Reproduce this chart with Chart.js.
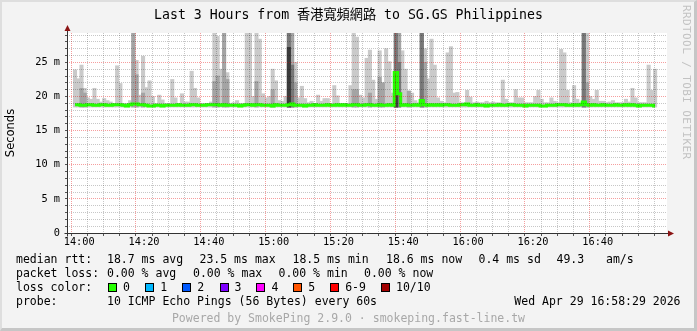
<!DOCTYPE html>
<html>
<head>
<meta charset="utf-8">
<script src="https://cdn.jsdelivr.net/npm/chart.js@4.4.1/dist/chart.umd.min.js"></script>
<style>
body { margin: 0; background: #f3f3f3; }
#wrap { position: relative; width: 697px; height: 331px; overflow: hidden; background: #f3f3f3; }
#frame { position: absolute; left: 0; top: 0; width: 697px; height: 331px; box-sizing: border-box;
  border-left: 2px solid #dedede; border-top: 2px solid #dedede; border-right: 3px solid #c6c6c6; border-bottom: 3px solid #c6c6c6; pointer-events: none; }
canvas { position: absolute; left: 0; top: 0; }
.t { position: absolute; font: 11.5px "DejaVu Sans Mono", monospace; line-height: 14px; white-space: pre; color: #000; }
.title { position: absolute; left: 0; top: 7px; width: 697px; text-align: center; font: 13.2px "DejaVu Sans Mono", "Noto Sans CJK TC", monospace; line-height: 16px; white-space: pre; color: #000; }
.sw { position: absolute; top: 283px; width: 7px; height: 7px; border: 1px solid #000; }
.rrd { position: absolute; left: 680px; top: 5px; writing-mode: vertical-rl; font: 11px "DejaVu Sans Mono", monospace; letter-spacing: 0.4px; color: #c2c2c2; white-space: pre; }
.pw { position: absolute; left: 0; width: 697px; top: 311px; text-align: center; font: 11.5px "DejaVu Sans Mono", monospace; line-height: 14px; color: #a8a8a8; white-space: pre; }
</style>
</head>
<body>
<div id="wrap">
  <canvas id="c" width="697" height="331"></canvas>
  <div class="title">Last 3 Hours from 香港寬頻網路 to SG.GS Philippines</div>
  <div class="rrd">RRDTOOL / TOBI OETIKER</div>

  <div class="t" style="left:16px;top:252px">median rtt:</div>
  <div class="t" style="left:107px;top:252px">18.7 ms avg</div>
  <div class="t" style="left:199.5px;top:252px">23.5 ms max</div>
  <div class="t" style="left:292.5px;top:252px">18.5 ms min</div>
  <div class="t" style="left:386px;top:252px">18.6 ms now</div>
  <div class="t" style="left:478.5px;top:252px">0.4 ms sd</div>
  <div class="t" style="left:556.5px;top:252px">49.3</div>
  <div class="t" style="left:606px;top:252px">am/s</div>

  <div class="t" style="left:16px;top:266px">packet loss:</div>
  <div class="t" style="left:107px;top:266px">0.00 % avg</div>
  <div class="t" style="left:193px;top:266px">0.00 % max</div>
  <div class="t" style="left:278.5px;top:266px">0.00 % min</div>
  <div class="t" style="left:364px;top:266px">0.00 % now</div>

  <div class="t" style="left:16px;top:280px">loss color:</div>
  <div id="lossLegend"></div>

  <div class="t" style="left:16px;top:294px">probe:</div>
  <div class="t" style="left:107px;top:294px">10 ICMP Echo Pings (56 Bytes) every 60s</div>
  <div class="t" style="right:16.5px;top:294px">Wed Apr 29 16:58:29 2026</div>

  <div class="pw">Powered by SmokePing 2.9.0 · smokeping.fast-line.tw</div>
  <div id="frame"></div>
</div>
<script>
// axis labels
const timeTicks = ['14:00', '14:20', '14:40', '15:00', '15:20', '15:40', '16:00', '16:20', '16:40'];
const yTicks = ['0', '5 m', '10 m', '15 m', '20 m', '25 m'];

// loss colour legend
const lossLabels = ['0', '1', '2', '3', '4', '5', '6-9', '10/10'];
const lossColors = ['#26ff00', '#00b8ff', '#0059ff', '#7e00ff', '#ff00ff', '#ff5500', '#ff0000', '#a10000'];

// one slot per minute, first slot centred 1.3 min before 14:00 (ms)
const FIRST_SLOT = -1.3;
const SMOKE_FLOOR = 18.45;

// highest ping of each minute (light smoke)
const smokeHi = [
  23.9, 22.6, 24.6, 21.2, 19.8, 19.6, 21.2, 19.6, 19.2, 19.7,
  19.4, 19.2, 19.0, 24.5, 21.9, 19.0, 19.0, 19.4, 29.4, 25.3,
  20.2, 25.9, 21.3, 22.3, 20.0, 19.0, 20.2, 19.5, 19.0, 19.0,
  22.5, 19.8, 19.0, 20.4, 19.2, 19.2, 23.7, 21.2, 19.8, 19.0,
  19.0, 19.0, 19.2, 29.4, 28.8, 24.0, 29.4, 23.5, 19.0, 19.1,
  19.4, 19.0, 19.0, 29.4, 29.4, 20.0, 29.4, 28.4, 20.4, 19.8,
  20.0, 24.0, 22.3, 19.4, 19.3, 20.0, 29.4, 29.4, 25.0, 19.8,
  21.5, 19.7, 19.1, 19.3, 19.0, 20.2, 19.3, 19.7, 19.7, 19.0,
  21.6, 20.1, 19.0, 19.0, 19.0, 21.6, 29.4, 28.7, 20.2, 19.8,
  25.6, 26.8, 22.4, 19.6, 26.7, 22.0, 27.0, 25.1, 20.5, 29.4,
  29.4, 26.7, 24.0, 20.8, 20.5, 19.4, 19.1, 29.4, 27.0, 22.6,
  28.4, 24.6, 19.8, 19.3, 19.1, 26.4, 27.3, 20.5, 20.6, 19.1,
  19.1, 20.9, 19.9, 19.1, 19.2, 19.1, 19.1, 19.3, 19.1, 19.2,
  19.1, 19.1, 22.4, 19.6, 19.1, 19.1, 21.0, 19.8, 19.8, 19.1,
  19.1, 19.1, 20.0, 20.9, 19.6, 19.1, 19.1, 19.8, 19.3, 19.1,
  26.9, 26.4, 20.9, 19.1, 21.6, 19.6, 19.1, 29.4, 29.4, 20.0,
  19.6, 20.9, 19.3, 19.3, 19.1, 19.2, 19.4, 19.1, 19.1, 19.1,
  19.6, 19.2, 21.2, 19.8, 19.1, 19.1, 19.1, 24.6, 20.9, 24.0
];

// denser smoke, [slot, top]
const smokeMid = [
  [2, 21.2], [3, 20.5], [18, 29.4], [19, 23.2], [21, 20.5], [43, 22.2], [44, 23.0],
  [46, 29.4], [47, 22.5], [56, 22.2], [61, 21.0], [66, 29.4], [67, 29.4], [68, 22.0],
  [86, 21.0], [87, 21.0], [91, 20.5], [94, 22.8], [95, 22.0], [99, 29.4], [100, 29.4],
  [103, 20.8], [107, 29.4], [108, 25.0], [157, 29.4], [158, 22.0]
];
const smokeDark = [[66, 29.4], [67, 24.6], [99, 29.4], [100, 25.0], [107, 29.4], [157, 29.4]];
const smokeDarkest = [[66, 27.2], [99, 23.5]];

// median rtt per minute
const median = [
  18.8, 18.8, 18.7, 18.7, 18.8, 18.8, 18.7, 18.7, 18.8, 18.8,
  18.7, 18.7, 18.8, 18.8, 18.8, 18.7, 18.6, 18.8, 18.9, 18.9,
  18.8, 18.8, 18.7, 18.6, 18.6, 18.7, 18.7, 18.6, 18.7, 18.7,
  18.7, 18.7, 18.8, 18.7, 18.7, 18.7, 18.8, 18.8, 18.7, 18.7,
  18.7, 18.8, 18.8, 18.8, 18.8, 18.7, 18.8, 18.7, 18.7, 18.7,
  18.7, 18.6, 18.7, 18.8, 18.8, 18.7, 18.8, 18.8, 18.7, 18.7,
  18.7, 18.6, 18.8, 18.7, 18.7, 18.7, 18.8, 18.9, 18.7, 18.7,
  18.7, 18.6, 18.7, 18.7, 18.8, 18.7, 18.7, 18.7, 18.8, 18.7,
  18.7, 18.8, 18.7, 18.8, 18.7, 18.7, 18.8, 18.8, 18.7, 18.7,
  18.8, 18.8, 18.7, 18.7, 18.8, 18.7, 18.7, 18.8, 18.7, 23.5,
  20.4, 18.7, 18.8, 18.7, 18.7, 18.8, 18.7, 19.4, 18.8, 18.7,
  18.8, 18.7, 18.8, 18.7, 18.8, 18.8, 18.7, 18.7, 18.7, 18.8,
  18.8, 18.9, 18.7, 18.7, 18.8, 18.7, 18.7, 18.6, 18.7, 18.7,
  18.7, 18.8, 18.7, 18.7, 18.8, 18.8, 18.7, 18.7, 18.7, 18.6,
  18.7, 18.7, 18.7, 18.7, 18.6, 18.6, 18.7, 18.7, 18.7, 18.8,
  18.8, 18.8, 18.7, 18.7, 18.8, 18.7, 18.8, 19.2, 18.8, 18.7,
  18.8, 18.7, 18.7, 18.8, 18.7, 18.7, 18.7, 18.8, 18.7, 18.7,
  18.8, 18.7, 18.8, 18.7, 18.6, 18.7, 18.7, 18.7, 18.7, 18.6
];

// loss legend boxes
const swatchX = [108, 145.3, 182.2, 219.6, 256.4, 293.3, 330.2, 381];
const legendEl = document.getElementById('lossLegend');
legendEl.innerHTML = lossLabels.map((l, i) =>
  `<div class="sw" style="left:${swatchX[i]}px;background:${lossColors[i]}"></div>` +
  `<div class="t" style="left:${swatchX[i] + 15}px;top:280px">${l}</div>`).join('');

const slotX = i => FIRST_SLOT + i;
const smokeBars = pairs => pairs.map(([i, v]) => ({ x: slotX(i), y: [SMOKE_FLOOR, v] }));
// each minute slot is 600px / 180 wide; a hair extra so neighbours touch
const barSet = (data, color, order) => ({
  type: 'bar', data, backgroundColor: color, borderWidth: 0, grouped: false,
  barThickness: 3.4, order, clip: 0
});

const frame = {
  id: 'frame',
  beforeDraw(chart) {
    const { ctx, chartArea: a } = chart;
    ctx.save();
    ctx.fillStyle = '#ffffff';
    ctx.fillRect(a.left, a.top, a.right - a.left, a.bottom - a.top);
    ctx.restore();
  },
  afterDraw(chart) {
    const { ctx, chartArea: a } = chart;
    const x0 = Math.round(a.left) + 0.5, y0 = Math.round(a.bottom) + 0.5;
    ctx.save();
    ctx.strokeStyle = '#333';
    ctx.lineWidth = 1;
    ctx.beginPath();
    ctx.moveTo(x0, y0 + 3); ctx.lineTo(x0, a.top - 3);
    ctx.moveTo(x0 - 3, y0); ctx.lineTo(a.right + 2, y0);
    ctx.stroke();
    ctx.fillStyle = '#8b1414';
    ctx.beginPath();
    ctx.moveTo(x0 - 3, a.top - 2); ctx.lineTo(x0 + 3, a.top - 2); ctx.lineTo(x0, a.top - 8);
    ctx.closePath(); ctx.fill();
    ctx.beginPath();
    ctx.moveTo(a.right + 1, y0 - 3); ctx.lineTo(a.right + 1, y0 + 3); ctx.lineTo(a.right + 7, y0);
    ctx.closePath(); ctx.fill();
    ctx.restore();
  }
};

const majorRed = 'rgba(230,0,0,0.38)';
const minorGray = 'rgba(0,0,0,0.22)';

new Chart(document.getElementById('c'), {
  type: 'bar',
  data: {
    datasets: [
      { type: 'line', data: median.map((v, i) => ({ x: slotX(i), y: v })), borderColor: '#26ff00',
        borderWidth: 3, pointRadius: 0, stepped: 'middle', order: 0, clip: 0 },
      barSet(smokeBars(smokeDarkest), '#3a3a3a', 1),
      barSet(smokeBars(smokeDark), '#777777', 2),
      barSet(smokeBars(smokeMid), '#a4a4a4', 3),
      barSet(smokeHi.map((v, i) => ({ x: slotX(i), y: [SMOKE_FLOOR, v] })), '#cacaca', 4)
    ]
  },
  options: {
    responsive: false,
    animation: false,
    devicePixelRatio: 1,
    layout: { padding: { top: 33, right: 30, left: 0, bottom: 0 } },
    plugins: { legend: { display: false }, tooltip: { enabled: false } },
    scales: {
      x: {
        type: 'linear', min: -1.2, max: 178.8,
        afterFit(s) { s.height = 98; },
        afterBuildTicks(s) { const t = []; for (let v = 0; v <= 175; v += 5) t.push({ value: v }); s.ticks = t; },
        ticks: {
          autoSkip: false, maxRotation: 0, padding: 0, color: '#000',
          font: { family: 'DejaVu Sans Mono', size: 10.3 },
          callback: v => (v % 20 === 0 ? timeTicks[v / 20] : '')
        },
        grid: { z: 1, color: c => (c.tick && c.tick.value % 20 === 0 ? majorRed : minorGray),
          tickLength: 3, tickColor: '#555' },
        border: { display: false, dash: [1, 1] }
      },
      y: {
        min: 0, max: 29.3,
        afterFit(s) { s.width = 67; },
        afterBuildTicks(s) { const t = []; for (let v = 0; v <= 29; v++) t.push({ value: v }); s.ticks = t; },
        ticks: {
          autoSkip: false, padding: 5, color: '#000',
          font: { family: 'DejaVu Sans Mono', size: 10.3 },
          callback: v => (v % 5 === 0 ? yTicks[v / 5] : '')
        },
        grid: { z: 1, color: c => (c.tick && c.tick.value % 5 === 0 ? majorRed : minorGray),
          tickLength: 2, tickColor: '#555' },
        border: { display: false, dash: [1, 1] },
        title: { display: true, text: 'Seconds', color: '#000', padding: 4,
          font: { family: 'DejaVu Sans', size: 11.5 } }
      }
    }
  },
  plugins: [frame]
});
</script>
</body>
</html>
